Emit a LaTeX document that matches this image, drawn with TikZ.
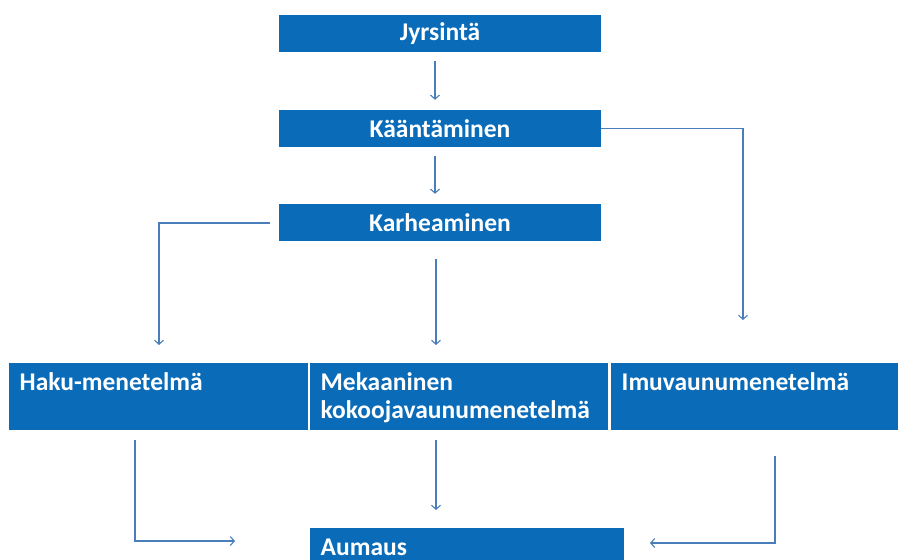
\documentclass[tikz,border=0pt]{standalone}
\usepackage{fontspec}
\setmainfont{Carlito}
\usetikzlibrary{arrows.meta}
\definecolor{boxblue}{HTML}{0A6CB8}
\definecolor{linkblue}{HTML}{4A7EBB}
\begin{document}
\begin{tikzpicture}[x=1pt,y=-1pt,
  font=\fontsize{25.5}{28}\selectfont\bfseries,
  topbox/.style={fill=boxblue,text=white,minimum width=322pt,minimum height=37pt,inner sep=0pt},
  rowbox/.style={fill=boxblue,text=white,anchor=north west,inner xsep=10.5pt,inner ysep=0pt},
  arr/.style={draw=linkblue,line width=1.1pt,-{Straight Barb[length=4pt,width=9pt,line width=1.1pt]}}]
\useasboundingbox (0,0) rectangle (898,560);
\clip (0,0) rectangle (898,560);
\node[topbox] (jyr) at (440,33.5) {Jyrsintä};
\node[topbox] (kaa) at (440,128.5) {Kääntäminen};
\node[topbox] (kar) at (440,222.5) {Karheaminen};
\node[rowbox] (haku) at (9,363) {\parbox[c][67pt][t]{278pt}{\rule{0pt}{27pt}Haku-menetelmä}};
\node[rowbox] (mek) at (310,363) {\parbox[c][67pt][t]{277pt}{\rule{0pt}{27pt}Mekaaninen\\kokoojavaunumenetelmä}};
\node[rowbox] (imu) at (611,363) {\parbox[c][67pt][t]{290pt}{\rule{0pt}{27pt}Imuvaunumenetelmä}};
\node[rowbox] (aum) at (310,528) {\parbox[c][67pt][t]{293pt}{\rule{0pt}{27pt}Aumaus}};
\coordinate (hakuin) at (159,345);
\coordinate (imuin) at (743,320);
\coordinate (aumleft) at (235,541);
\coordinate (aumright) at (650,543);
\draw[arr] ([xshift=-5pt,yshift=-8.5pt]jyr.south) -- ([xshift=-5pt,yshift=10pt]kaa.north);
\draw[arr] ([xshift=-5pt,yshift=-8.5pt]kaa.south) -- ([xshift=-5pt,yshift=10pt]kar.north);
\draw[arr] ([xshift=-9pt,yshift=-0.5pt]kar.west) -| (hakuin);
\draw[arr] ([xshift=-4pt,yshift=-18pt]kar.south) -- ([xshift=-4pt,yshift=18pt]kar.south |- haku.north);
\draw[arr] (kaa.east) -| (imuin);
\draw[arr] ([yshift=-10pt]haku.south -| 135,0) |- (aumleft);
\draw[arr] ([yshift=-10pt]mek.south -| 436,0) -- ([yshift=18pt]aum.north -| 436,0);
\draw[arr] ([yshift=-26pt]imu.south -| 775,0) |- (aumright);
\end{tikzpicture}
\end{document}
